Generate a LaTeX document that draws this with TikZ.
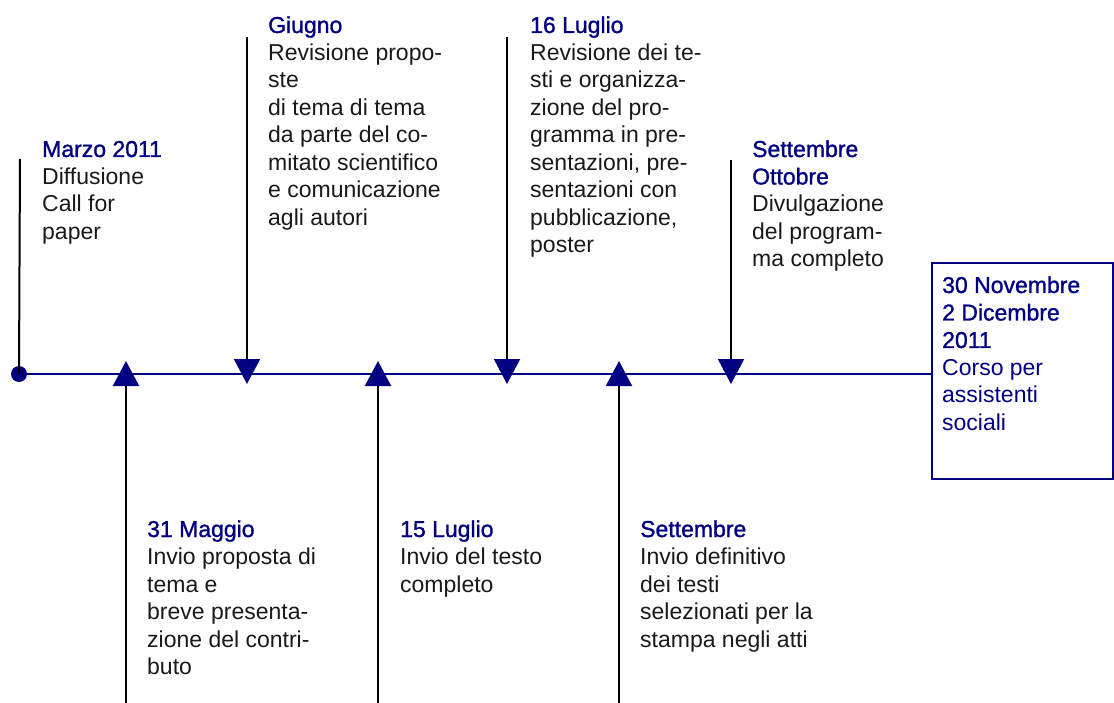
\documentclass[tikz,border=0pt]{standalone}
\usepackage{fontspec}
\setmainfont{Liberation Sans}
\newfontfamily\datefont[FakeBold=1.2]{Liberation Sans}
\usetikzlibrary{arrows.meta}
\definecolor{navy}{RGB}{0,0,128}
\definecolor{txt}{RGB}{25,25,25}
\newcommand\evblock[2]{\parbox[t]{8cm}{\raggedright\fontsize{23}{27.5}\selectfont\leavevmode{\datefont\color{navy}#1}\\\color{txt}#2}}
\tikzset{
  vline/.style={draw=black, line width=2pt},
  dnarrow/.style={vline, -{Triangle[width=26pt,length=25pt,color=navy]}},
  uparrow/.style={vline, -{Triangle[width=26pt,length=25pt,color=navy]}},
  evtext/.style={anchor=base west, inner sep=0pt},
  mainline/.style={draw=navy, line width=2pt},
  boxstyle/.style={draw=navy, line width=2pt, minimum width=181pt, minimum height=216pt, inner sep=0pt}
}
\begin{document}
\begin{tikzpicture}[x=1pt,y=-1pt]
\useasboundingbox (0,0) rectangle (1114,703);
% main line elements
\node[circle, fill=navy, inner sep=0pt, minimum size=16pt] (dot) at (19,374) {};
\node[boxstyle] (box) at (1022.5,371) {};
\draw[mainline] (dot.center) -- (dot -| box.west);
% coordinates for connectors
\coordinate (mtop) at (20,159);
\coordinate (gtop) at (247,37);
\coordinate (gtip) at (247,384);
\coordinate (ltop) at (507,37);
\coordinate (ltip) at (507,384);
\coordinate (stop) at (731,160);
\coordinate (stip) at (731,384);
\coordinate (mbot) at (126,703);
\coordinate (mtip) at (126,361);
\coordinate (lbot) at (378,703);
\coordinate (lutip) at (378,361);
\coordinate (sbot) at (619,703);
\coordinate (sutip) at (619,361);
\draw[vline] (mtop) -- (dot.center);
\draw[dnarrow] (gtop) -- (gtip);
\draw[dnarrow] (ltop) -- (ltip);
\draw[dnarrow] (stop) -- (stip);
\draw[uparrow] (mbot) -- (mtip);
\draw[uparrow] (lbot) -- (lutip);
\draw[uparrow] (sbot) -- (sutip);
% texts
\node[evtext] (tmarzo) at (42,157) {\evblock{Marzo 2011}{Diffusione\\Call for\\paper}};
\node[evtext] (tgiugno) at (268,33) {\evblock{Giugno}{Revisione propo-\\ste\\di tema di tema\\da parte del co-\\mitato scientifico\\e comunicazione\\agli autori}};
\node[evtext] (tluglio16) at (530,33) {\evblock{16 Luglio}{Revisione dei te-\\sti e organizza-\\zione del pro-\\gramma in pre-\\sentazioni, pre-\\sentazioni con\\pubblicazione,\\poster}};
\node[evtext] (tsetott) at (752,157) {\evblock{Settembre\\Ottobre}{Divulgazione\\del program-\\ma completo}};
\node[evtext] (tmaggio) at (147,537) {\evblock{31 Maggio}{Invio proposta di\\tema e\\breve presenta-\\zione del contri-\\buto}};
\node[evtext] (tluglio15) at (400,537) {\evblock{15 Luglio}{Invio del testo\\completo}};
\node[evtext] (tsett) at (640,537) {\evblock{Settembre}{Invio definitivo\\dei testi\\selezionati per la\\stampa negli atti}};
\node[evtext] (tbox) at (942,293) {\parbox[t]{6cm}{\raggedright\fontsize{23}{27.5}\selectfont\leavevmode\color{navy}{\datefont 30 Novembre\\2 Dicembre\\2011}\\Corso per\\assistenti\\sociali}};
\end{tikzpicture}
\end{document}
